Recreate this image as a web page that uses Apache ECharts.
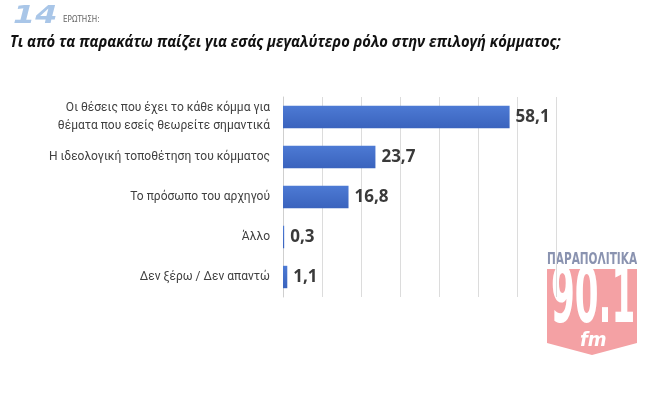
<!DOCTYPE html>
<html><head><meta charset="utf-8">
<script src="https://cdn.jsdelivr.net/npm/echarts@6/dist/echarts.min.js"></script>
<style>html,body{margin:0;padding:0;background:#fff}#c{width:650px;height:397px}</style>
</head><body><div id="c"></div>
<script>
const categories = [
  "Οι θέσεις που έχει το κάθε κόμμα για\nθέματα που εσείς θεωρείτε σημαντικά",
  "Η ιδεολογική τοποθέτηση του κόμματος",
  "Το πρόσωπο του αρχηγού",
  "Άλλο",
  "Δεν ξέρω / Δεν απαντώ"
];
const values = [58.1, 23.7, 16.8, 0.3, 1.1];
const questionNumber = "14";
const questionLabel = "ΕΡΩΤΗΣΗ:";
const titleText = "Τι από τα παρακάτω παίζει για εσάς μεγαλύτερο ρόλο στην επιλογή κόμματος;";

const cond = '"DejaVu Sans Condensed", sans-serif';
const chart = echarts.init(document.getElementById('c'), null, {renderer: 'canvas'});
chart.setOption({
  backgroundColor: '#fff',
  animation: false,
  grid: {left: 283, right: 94, top: 97, bottom: 100, containLabel: false},
  xAxis: {
    type: 'value', min: 0, max: 70, interval: 10,
    axisLabel: {show: false}, axisTick: {show: false}, axisLine: {show: false},
    splitLine: {show: true, lineStyle: {color: '#dcdcdc', width: 1}}
  },
  yAxis: {
    type: 'category', data: categories, inverse: true,
    axisTick: {show: false},
    axisLine: {show: true, lineStyle: {color: '#cfcfcf'}},
    axisLabel: {color: '#404040', fontSize: 12, fontFamily: 'Roboto', margin: 13, lineHeight: 18, align: 'right'}
  },
  series: [{
    type: 'bar', data: values, barWidth: '56%',
    itemStyle: {color: new echarts.graphic.LinearGradient(0,0,0,1,[{offset:0,color:'#4d7ad4'},{offset:1,color:'#3a63bd'}])},
    label: {show: true, position: 'right', distance: 6, color: '#3a3a3a', fontSize: 17, fontWeight: 'bold', fontFamily: 'Open Sans',
      formatter: p => String(p.value).replace('.', ',')}
  }],
  graphic: [
    {type: 'text', x: 13, y: 5, scaleX: 1.45, scaleY: 1.1, style: {text: questionNumber, fill: '#a9c6e8', font: 'italic 900 22px "DejaVu Sans"'}},
    {type: 'text', x: 63, y: 16, style: {text: questionLabel, fill: '#666', font: '8px ' + cond}},
    {type: 'text', x: 10, y: 34, scaleX: 0.92, style: {text: titleText, fill: '#111', font: 'italic bold 16px "Open Sans"'}},
    {type: 'text', x: 547, y: 252, scaleX: 0.9, scaleY: 1.2, style: {text: 'ΠΑΡΑΠΟΛΙΤΙΚΑ', fill: '#8a93b0', font: 'bold 13px ' + cond}},
    {type: 'polygon', shape: {points: [[547,269],[637,269],[637,343],[592,355],[547,343]]}, style: {fill: '#f4a1a4'}},
    {type: 'text', x: 551, y: 302, scaleX: 0.95, scaleY: 1.95, style: {text: '90.1', fill: '#fff', font: 'bold 40px ' + cond, verticalAlign: 'middle'}},
    {type: 'text', x: 580, y: 331, style: {text: 'fm', fill: '#fff', font: 'italic bold 20px ' + cond}}
  ]
});
</script></body></html>
